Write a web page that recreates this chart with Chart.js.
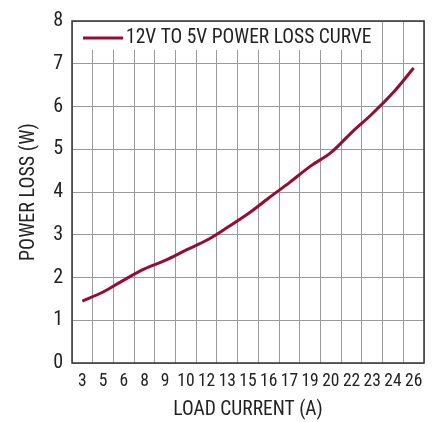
<!DOCTYPE html>
<html>
<head>
<meta charset="utf-8">
<script src="https://cdn.jsdelivr.net/npm/chart.js@4.4.1/dist/chart.umd.min.js"></script>
<style>
  html, body { margin: 0; padding: 0; background: #fff; }
  #wrap { width: 435px; height: 422px; }
</style>
</head>
<body>
<div id="wrap"><canvas id="lossChart" width="435" height="422"></canvas></div>
<script>
// load current tick labels (A), one per grid column
const currentLabels = ['3', '5', '6', '8', '9', '10', '12', '13', '15', '16', '17', '19', '20', '22', '23', '24', '26'];
// power loss at each column centre (W)
const powerLoss = [1.45, 1.66, 1.94, 2.20, 2.40, 2.64, 2.87, 3.17, 3.49, 3.86, 4.22, 4.60, 4.92, 5.39, 5.83, 6.32, 6.90];
const seriesName = '12V TO 5V POWER LOSS CURVE';

const FONT = '"Roboto Condensed", "DejaVu Sans Condensed", sans-serif';
const lineColor = '#960c32';

// legend box sitting inside the plot, top-left, plus a dark frame round the plot
const framePlugin = {
  id: 'frameAndLegend',
  afterDatasetsDraw(chart) {
    const ctx = chart.ctx;
    const a = chart.chartArea;
    ctx.save();
    // legend
    ctx.fillStyle = '#fff';
    ctx.fillRect(a.left + 3, a.top + 1, 305, 28);
    ctx.strokeStyle = lineColor;
    ctx.lineWidth = 3;
    ctx.beginPath();
    ctx.moveTo(a.left + 11, a.top + 17);
    ctx.lineTo(a.left + 51, a.top + 17);
    ctx.stroke();
    ctx.fillStyle = '#222';
    ctx.font = '19.5px ' + FONT;
    ctx.textBaseline = 'middle';
    ctx.fillText(chart.data.datasets[0].label, a.left + 54, a.top + 17);
    // frame
    ctx.strokeStyle = '#333';
    ctx.lineWidth = 1.5;
    ctx.strokeRect(a.left, a.top, a.right - a.left, a.bottom - a.top);
    ctx.restore();
  }
};

const ctx = document.getElementById('lossChart').getContext('2d');
window.lossChart = new Chart(ctx, {
  type: 'line',
  data: {
    labels: currentLabels,
    datasets: [
      {
        label: seriesName,
        data: powerLoss,
        borderColor: lineColor,
        borderWidth: 3,
        pointRadius: 0,
        cubicInterpolationMode: 'monotone',
        fill: false
      }
    ]
  },
  options: {
    responsive: false,
    animation: false,
    layout: { padding: { left: 0, right: 11, top: 11, bottom: 0 } },
    scales: {
      x: {
        type: 'category',
        offset: true,
        grid: { offset: true, color: '#9a9a9a', lineWidth: 1, drawTicks: false },
        border: { display: false },
        ticks: {
          autoSkip: false,
          maxRotation: 0,
          padding: 8,
          color: '#222',
          font: { family: FONT, size: 17.5 }
        },
        title: {
          display: true,
          text: 'LOAD CURRENT (A)',
          color: '#222',
          font: { family: FONT, size: 19.5 },
          padding: { top: 0, bottom: 0 }
        },
        afterFit(scale) { scale.height = 59; }
      },
      y: {
        min: 0,
        max: 8,
        grid: { color: '#9a9a9a', lineWidth: 1, drawTicks: false },
        border: { display: false },
        ticks: {
          stepSize: 1,
          padding: 9,
          color: '#222',
          font: { family: FONT, size: 20 }
        },
        title: {
          display: true,
          text: 'POWER LOSS (W)',
          color: '#222',
          font: { family: FONT, size: 20 },
          padding: { top: 17, bottom: 0 }
        },
        afterFit(scale) { scale.width = 72; }
      }
    },
    plugins: {
      legend: { display: false },
      tooltip: { enabled: false }
    }
  },
  plugins: [framePlugin]
});
</script>
</body>
</html>
